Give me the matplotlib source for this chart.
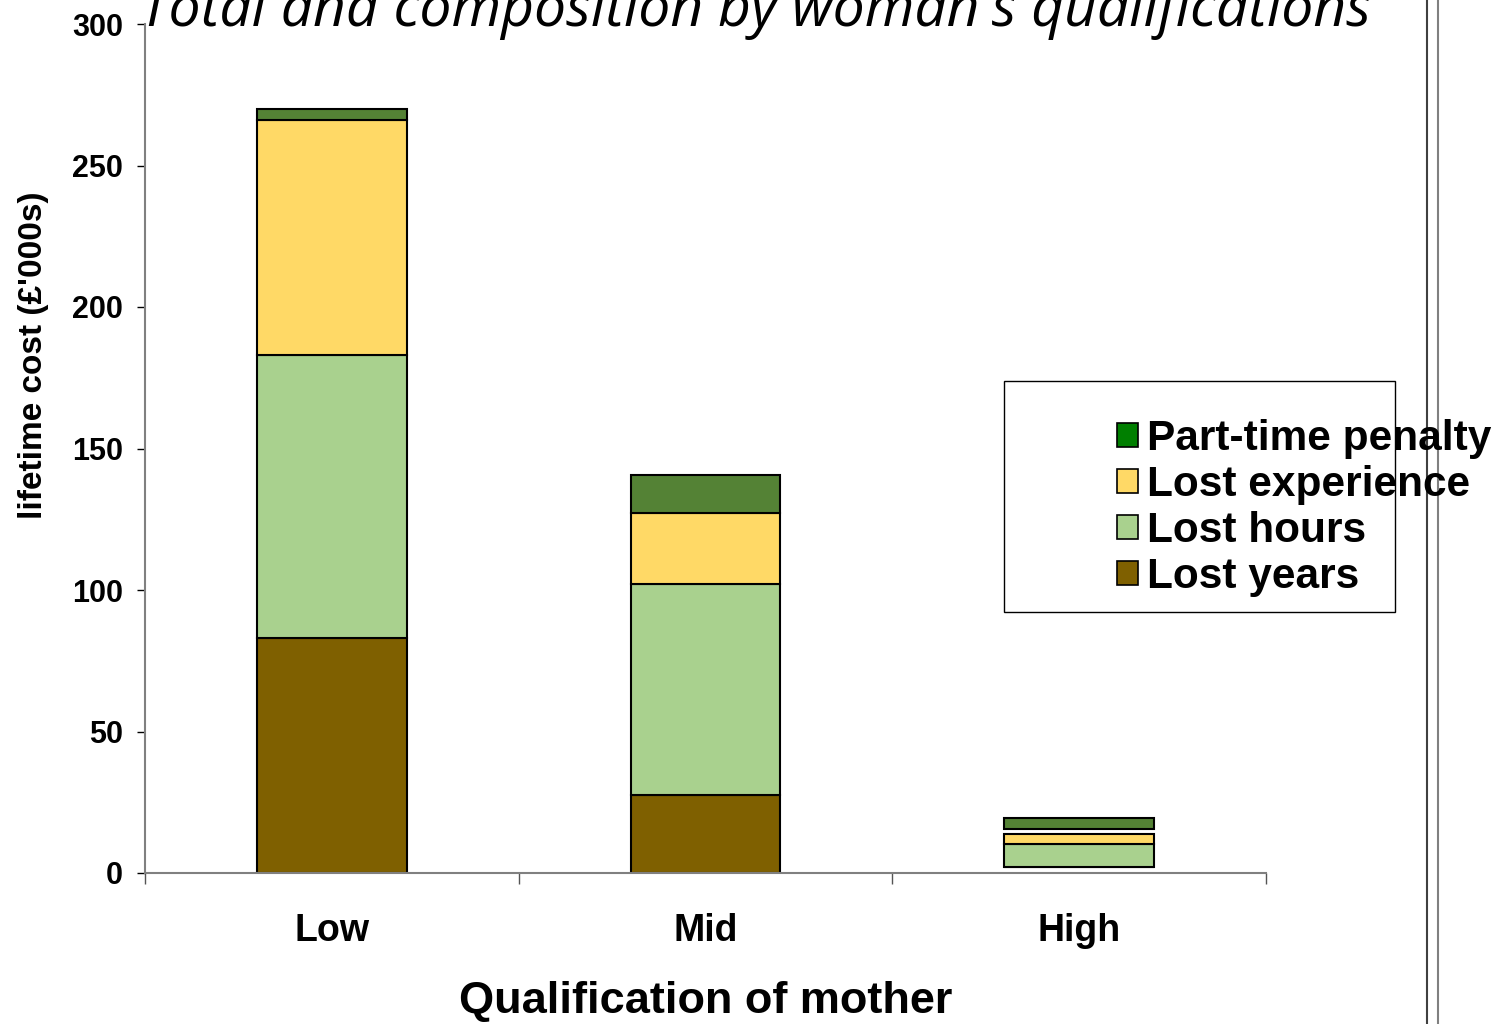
import matplotlib
matplotlib.use("Agg")
from matplotlib import pyplot as plt
from matplotlib.patches import Patch, Rectangle
from matplotlib.lines import Line2D

categories = ["Low", "Mid", "High"]
lost_years = [83.0, 27.6, 0.0]
lost_hours = [100.0, 74.5, 8.0]
lost_experience = [83.1, 25.1, 3.6]
part_time = [3.9, 13.4, 3.8]
# High bar floats slightly off the axis and has a gap below the top block
base_offset = [0.0, 0.0, 2.1]
pt_gap = [0.0, 0.0, 1.8]

series_names = ["Part-time penalty", "Lost experience", "Lost hours", "Lost years"]
bar_colors = {"Lost years": "#7f6000", "Lost hours": "#a9d18e",
              "Lost experience": "#ffd966", "Part-time penalty": "#548235"}
legend_colors = {"Lost years": "#7f6000", "Lost hours": "#a9d18e",
                 "Lost experience": "#ffd966", "Part-time penalty": "#007f00"}

plt.rcParams["font.family"] = ["Liberation Sans", "DejaVu Sans"]
plt.rcParams["font.weight"] = "bold"

fig = plt.figure(figsize=(15.01, 10.24), dpi=100)
ax = fig.add_axes([145 / 1501, 1 - 873 / 1024, 1121 / 1501, 849 / 1024])

x = list(range(len(categories)))
w = 0.40
edge = dict(edgecolor="black", linewidth=1.5)

bottom = list(base_offset)
for name, vals in [("Lost years", lost_years), ("Lost hours", lost_hours),
                   ("Lost experience", lost_experience)]:
    ax.bar(x, vals, w, bottom=bottom, color=bar_colors[name], **edge)
    bottom = [b + v for b, v in zip(bottom, vals)]
bottom = [b + g for b, g in zip(bottom, pt_gap)]
ax.bar(x, part_time, w, bottom=bottom, color=bar_colors["Part-time penalty"], **edge)

ax.set_xlim(-0.5, 2.5)
ax.set_ylim(0, 300)
ax.set_yticks(range(0, 301, 50))
ax.tick_params(axis="y", labelsize=22, length=6, width=1, color="black", pad=10)
ax.set_xticks([-0.5, 0.5, 1.5, 2.5])
ax.set_xticklabels([])
ax.set_xticks(x, minor=True)
ax.set_xticklabels(categories, minor=True)
ax.tick_params(axis="x", which="major", length=8, width=1, color="#555555")
ax.tick_params(axis="x", which="minor", length=0, labelsize=27, pad=29)

for s in ["top", "right"]:
    ax.spines[s].set_visible(False)
for s in ["left", "bottom"]:
    ax.spines[s].set_color("#808080")
    ax.spines[s].set_linewidth(1.5)

ax.set_xlabel("Qualification of mother", fontsize=32.5, fontweight="bold")
ax.xaxis.set_label_coords(0.5, -0.127)
ax.set_ylabel("lifetime cost (£'000s)", fontsize=24, fontweight="bold")
ax.yaxis.set_label_coords(-0.086, 0.61)

fig.text(755 / 1501, 1 - 26 / 1024, "Total and composition by woman's qualifications",
         ha="center", va="baseline", fontsize=41, style="italic", fontweight="normal",
         family=["Open Sans", "DejaVu Sans"])

# legend frame drawn separately (text runs past it in the original)
fig.patches.append(Rectangle((1004 / 1501, 1 - 612 / 1024), 391 / 1501, 231 / 1024,
                             transform=fig.transFigure, fill=False,
                             edgecolor="black", linewidth=1))
handles = [Patch(facecolor=legend_colors[n], edgecolor="black", linewidth=1.2) for n in series_names]
fig.legend(handles, series_names, loc="upper left",
           bbox_to_anchor=(1117 / 1501, 1 - 419 / 1024), frameon=False,
           handlelength=0.5, handleheight=0.5, handletextpad=0.2,
           labelspacing=0.14, borderpad=0, borderaxespad=0,
           prop={"weight": "bold", "size": 30.5})

fig.lines.append(Line2D([1427 / 1501] * 2, [0, 1], transform=fig.transFigure,
                        color="#404040", linewidth=1.5))
fig.lines.append(Line2D([1438 / 1501] * 2, [0, 1], transform=fig.transFigure,
                        color="#808080", linewidth=1.5))

fig.savefig("out.png", dpi=100)
